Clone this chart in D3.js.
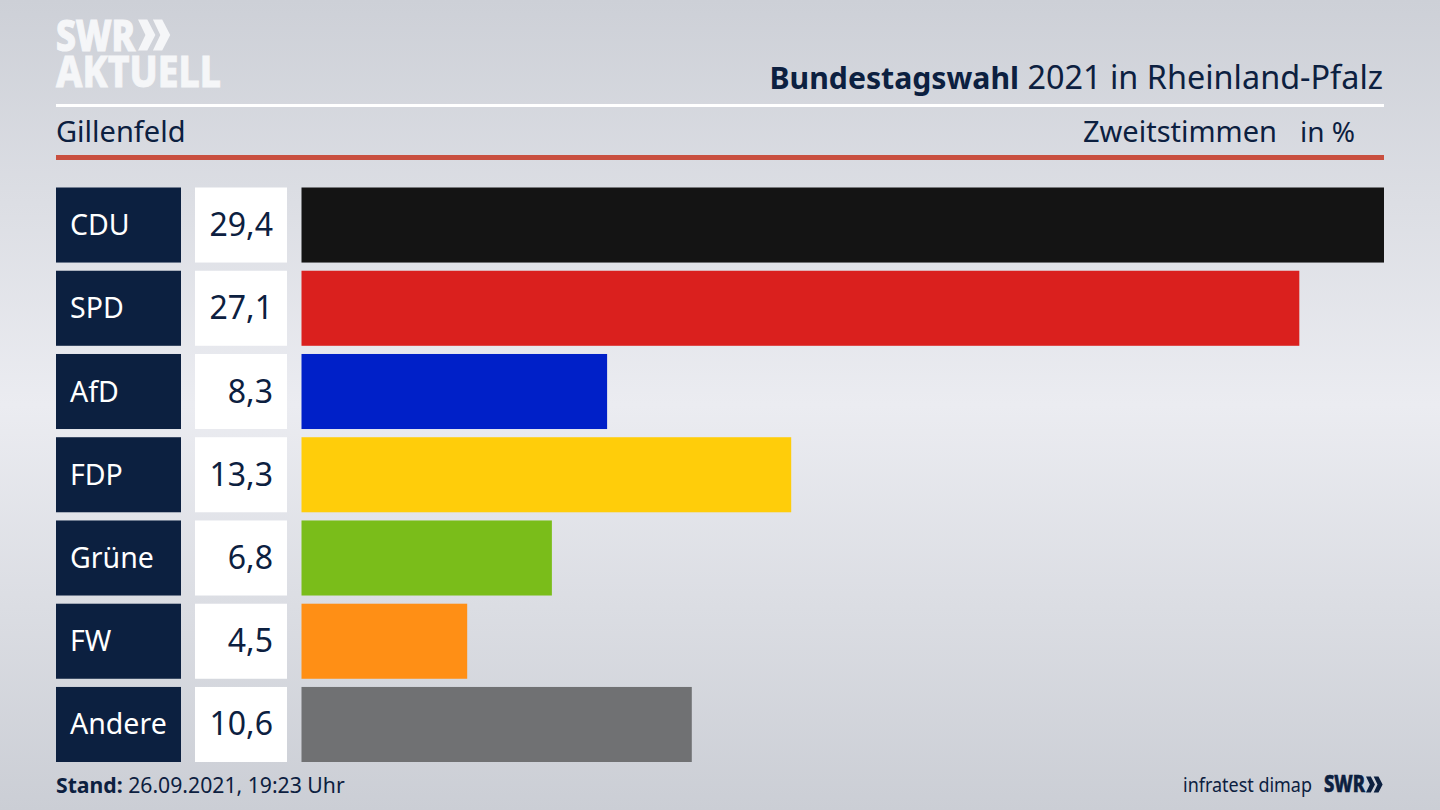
<!DOCTYPE html>
<html>
<head>
<meta charset="utf-8">
<script src="https://cdn.jsdelivr.net/npm/d3@7"></script>
<style>
  html, body { margin: 0; padding: 0; background: #e0e2e8; overflow: hidden; }
  text { font-family: "Noto Sans", sans-serif; }
</style>
</head>
<body>
<svg id="chart"></svg>
<script>
const parties = ["CDU", "SPD", "AfD", "FDP", "Grüne", "FW", "Andere"];
const shares = [29.4, 27.1, 8.3, 13.3, 6.8, 4.5, 10.6];
const barColors = ["#141414", "#da201e", "#0020c8", "#ffcd0a", "#7abd1a", "#ff8f15", "#707173"];

const width = 1440, height = 810;
const navy = "#0c2040";
const svg = d3.select("#chart").attr("width", width).attr("height", height).style("display", "block");

// background, darker at top and bottom
const grad = svg.append("defs").append("linearGradient")
  .attr("id", "bg").attr("x1", 0).attr("y1", 0).attr("x2", 0).attr("y2", 1);
[[0, "#cdd0d7"], [0.5, "#ebecf1"], [1, "#cbced5"]].forEach(s => {
  grad.append("stop").attr("offset", s[0]).attr("stop-color", s[1]);
});
svg.append("rect").attr("width", width).attr("height", height).attr("fill", "url(#bg)");

// scales
const x = d3.scaleLinear().domain([0, 29.4]).range([301.5, 1384]);
const y = d3.scaleBand().domain(parties).range([187.5, 762]).paddingInner(0.0985);

const color = d3.scaleOrdinal().domain(parties).range(barColors);
const rows = parties.map((p, i) => ({ party: p, share: shares[i] }));
const fmt = v => v.toFixed(1).replace(".", ",");

// header
svg.append("text").attr("x", 1383).attr("y", 89).attr("text-anchor", "end")
  .attr("font-size", 32.4).attr("fill", navy)
  .html('<tspan font-weight="700" font-size="30.2">Bundestagswahl</tspan> 2021 in Rheinland-Pfalz');
svg.append("rect").attr("x", 56).attr("y", 104).attr("width", 1328).attr("height", 3).attr("fill", "#ffffff");
svg.append("text").attr("x", 56).attr("y", 142).attr("font-size", 29).attr("fill", navy).text("Gillenfeld");
svg.append("text").attr("x", 1277).attr("y", 142).attr("text-anchor", "end")
  .attr("font-size", 29).attr("fill", navy).text("Zweitstimmen");
svg.append("text").attr("x", 1355).attr("y", 142).attr("text-anchor", "end")
  .attr("font-size", 28).attr("fill", navy).text("in %");
svg.append("rect").attr("x", 56).attr("y", 155).attr("width", 1328).attr("height", 5).attr("fill", "#c94f3f");

// logo
svg.append("text").attr("x", 56).attr("y", 50.5).attr("font-size", 42).attr("font-weight", 800)
  .attr("fill", "#f5f6f8").attr("stroke", "#f5f6f8").attr("stroke-width", 1.2)
  .attr("textLength", 79).attr("lengthAdjust", "spacingAndGlyphs").text("SWR");
svg.append("text").attr("x", 56).attr("y", 87).attr("font-size", 42).attr("font-weight", 800)
  .attr("fill", "#f5f6f8").attr("stroke", "#f5f6f8").attr("stroke-width", 0.8)
  .attr("textLength", 165).attr("lengthAdjust", "spacingAndGlyphs").text("AKTUELL");

// double arrow of the logo, size is the height of one arrow
function chevrons(g, size, fill) {
  [0, 0.48].forEach(o => {
    const p = [[o, 0], [o + 0.3, 0], [o + 0.56, 0.5], [o + 0.3, 1], [o, 1], [o + 0.24, 0.5]];
    g.append("path").attr("d", d3.line()(p.map(d => [d[0] * size, d[1] * size])) + "Z").attr("fill", fill);
  });
}
chevrons(svg.append("g").attr("transform", "translate(138,19.5)"), 31, "#f5f6f8");

// rows
const row = svg.selectAll("g.row").data(rows).join("g").attr("class", "row");

row.append("rect").attr("x", 56).attr("y", d => y(d.party))
  .attr("width", 125).attr("height", y.bandwidth()).attr("fill", navy);
row.append("text").attr("x", 70).attr("y", d => y(d.party) + y.bandwidth() / 2 + 10)
  .attr("font-size", 28.5).attr("fill", "#ffffff").text(d => d.party);

row.append("rect").attr("x", 195).attr("y", d => y(d.party))
  .attr("width", 92).attr("height", y.bandwidth()).attr("fill", "#ffffff");
row.append("text").attr("x", 273).attr("y", d => y(d.party) + y.bandwidth() / 2 + 11)
  .attr("text-anchor", "end").attr("font-size", 32).attr("fill", navy).text(d => fmt(d.share));

row.append("rect").attr("x", x(0)).attr("y", d => y(d.party))
  .attr("width", d => x(d.share) - x(0)).attr("height", y.bandwidth()).attr("fill", d => color(d.party));

// footer
svg.append("text").attr("x", 56).attr("y", 793).attr("font-size", 21.2).attr("fill", navy)
  .html('<tspan font-weight="700">Stand:</tspan> 26.09.2021, 19:23 Uhr');
svg.append("text").attr("x", 1183).attr("y", 792)
  .attr("font-size", 20).attr("fill", navy).attr("textLength", 129).attr("lengthAdjust", "spacingAndGlyphs").text("infratest dimap");
svg.append("text").attr("x", 1324).attr("y", 792).attr("font-size", 23).attr("font-weight", 800)
  .attr("fill", navy).attr("stroke", navy).attr("stroke-width", 0.6)
  .attr("textLength", 41).attr("lengthAdjust", "spacingAndGlyphs").text("SWR");
chevrons(svg.append("g").attr("transform", "translate(1366,776.5)"), 16, navy);
</script>
</body>
</html>
